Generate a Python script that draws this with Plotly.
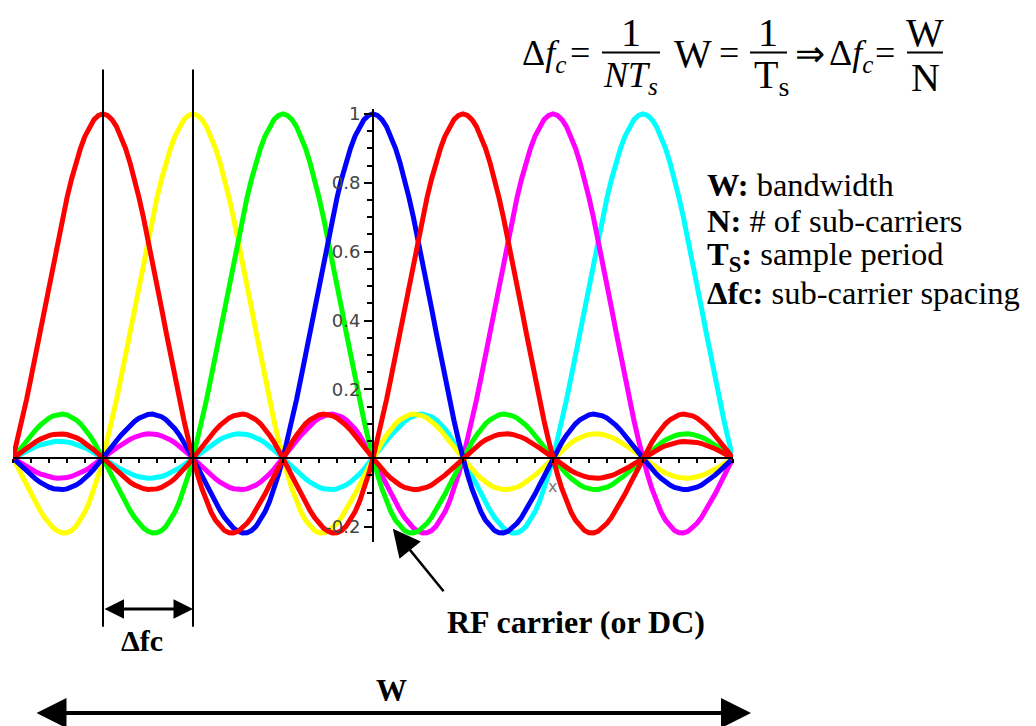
import numpy as np
import plotly.graph_objects as go

# OFDM sub-carrier offsets (in multiples of the spacing Δfc), listed in drawing order
carrier_offsets = [3, 2, -2, -1, 0, -3, 1]
carrier_colors = ["#00FFFF", "#FF00FF", "#FFFF00", "#00FF00", "#0000FF", "#FF0000", "#FF0000"]

# normalised frequency axis across the band
freq = np.linspace(-4, 4, 161)

# y-axis tick marks and labels
y_tickvals = [-0.2, 0.2, 0.4, 0.6, 0.8, 1.0]
y_ticktext = ["-0.2", "0.2", "0.4", "0.6", "0.8", "1"]

# symbol glossary shown to the right of the spectrum
glossary = [
    "<b>W:</b> bandwidth",
    "<b>N:</b> # of sub-carriers",
    "<b>T<sub>S</sub>:</b> sample period",
    "<b>Δfc:</b> sub-carrier spacing",
]

W, H = 1036, 726
X_RANGE = [-4, 4]
Y_RANGE = [-0.242, 1.014]
X_DOM = [13 / W, 733 / W]
Y_DOM = [1 - 540 / H, 1 - 104 / H]


def fx(p):
    """pixel column -> paper x"""
    return p / W


def fy(p):
    """pixel row -> paper y"""
    return 1 - p / H


def paper_x(v):
    return X_DOM[0] + (v - X_RANGE[0]) / (X_RANGE[1] - X_RANGE[0]) * (X_DOM[1] - X_DOM[0])


def paper_y(v):
    return Y_DOM[0] + (v - Y_RANGE[0]) / (Y_RANGE[1] - Y_RANGE[0]) * (Y_DOM[1] - Y_DOM[0])


fig = go.Figure()
for k, col in zip(carrier_offsets, carrier_colors):
    fig.add_trace(go.Scatter(
        x=freq, y=np.sinc(freq - k), mode="lines",
        line=dict(color=col, width=5), showlegend=False, hoverinfo="skip",
    ))

SERIF = "Liberation Serif"
annotations = []


def text(s, x, y, size, xanchor="center", bold=False, family=SERIF, color="black"):
    annotations.append(dict(
        text=f"<b>{s}</b>" if bold else s, x=fx(x), y=fy(y), xref="paper", yref="paper",
        xanchor=xanchor, yanchor="middle", showarrow=False,
        font=dict(family=family, size=size, color=color),
    ))


# header formula: Δfc = 1/(N Ts)   W = 1/Ts  ⇒  Δfc = W/N
FS, FL = 36, 40
text("Δ<i>f</i><sub><i>c</i></sub>", 520, 50, FS, xanchor="left")
text("=", 580, 47, FS)
text("1", 631, 27, FL)
text("<i>NT</i><sub><i>s</i></sub>", 630, 72, FS)
text("W", 693, 48, FL)
text("=", 729, 47, FS)
text("1", 768, 27, FL)
text("T<sub>s</sub>", 771, 72, FL)
text("⇒", 810, 48, FS)
text("Δ<i>f</i><sub><i>c</i></sub>", 827, 50, FS, xanchor="left")
text("=", 885, 47, FS)
text("W", 925, 27, FL)
text("N", 925, 72, FL)

fraction_bars = [(602, 660), (750, 787), (907, 943)]
shapes = []
for x0, x1 in fraction_bars:
    shapes.append(dict(type="line", xref="paper", yref="paper",
                       x0=fx(x0), x1=fx(x1), y0=fy(47), y1=fy(47),
                       line=dict(color="black", width=2)))

# glossary
for i, line in enumerate(glossary):
    text(line, 705, 180 + 36.5 * i, 32.5, xanchor="left")

# axis name
text("x", 552, 484, 16, family="DejaVu Sans", color="#777")

# spacing markers at the first two carriers
for k in (-3, -2):
    shapes.append(dict(type="line", xref="x", yref="paper", x0=k, x1=k,
                       y0=fy(64), y1=fy(626), line=dict(color="black", width=2)))

annotations.append(dict(
    x=-2, y=fy(608), xref="x", yref="paper", ax=-3, ay=0, axref="x", ayref="pixel",
    text="", showarrow=True, arrowside="end+start", arrowhead=2, startarrowhead=2,
    arrowsize=1.3, startarrowsize=1.3, arrowwidth=3, arrowcolor="black",
))
text("Δfc", 142, 640, 30, bold=True)

# DC carrier pointer
annotations.append(dict(
    x=0.22, y=-0.205, xref="x", yref="y", ax=52, ay=64,
    text="", showarrow=True, arrowhead=2, arrowsize=2.2, arrowwidth=2.5, arrowcolor="black",
))
text("RF carrier (or DC)", 576, 621, 32, bold=True)

# total bandwidth
annotations.append(dict(
    x=fx(751), y=fy(713), xref="paper", yref="paper", ax=-716, ay=0,
    text="", showarrow=True, arrowside="end+start", arrowhead=2, startarrowhead=2,
    arrowsize=1.5, startarrowsize=1.5, arrowwidth=4, arrowcolor="black",
))
text("W", 391, 690, 31, bold=True)

fig.update_layout(
    width=W, height=H, margin=dict(l=0, r=0, t=0, b=0),
    paper_bgcolor="white", plot_bgcolor="rgba(0,0,0,0)",
    showlegend=False,
    xaxis=dict(
        domain=X_DOM, range=X_RANGE, anchor="free", position=paper_y(0),
        showline=True, linecolor="black", linewidth=2,
        ticks="outside", ticklen=4, tickwidth=2, tickcolor="black",
        tick0=0, dtick=0.2, showticklabels=False,
        showgrid=False, zeroline=False, layer="above traces",
    ),
    yaxis=dict(
        domain=Y_DOM, range=Y_RANGE, anchor="free", position=paper_x(0),
        showline=True, linecolor="black", linewidth=2,
        ticks="outside", ticklen=8, tickwidth=2, tickcolor="black",
        tickmode="array", tickvals=y_tickvals, ticktext=y_ticktext,
        tickfont=dict(family="DejaVu Sans", size=18, color="#444"),
        minor=dict(ticks="outside", ticklen=5, tickwidth=2, tickcolor="black",
                   tick0=0, dtick=0.05),
        showgrid=False, zeroline=False, layer="above traces",
    ),
    shapes=shapes,
    annotations=annotations,
)

fig.write_html("out.html")
